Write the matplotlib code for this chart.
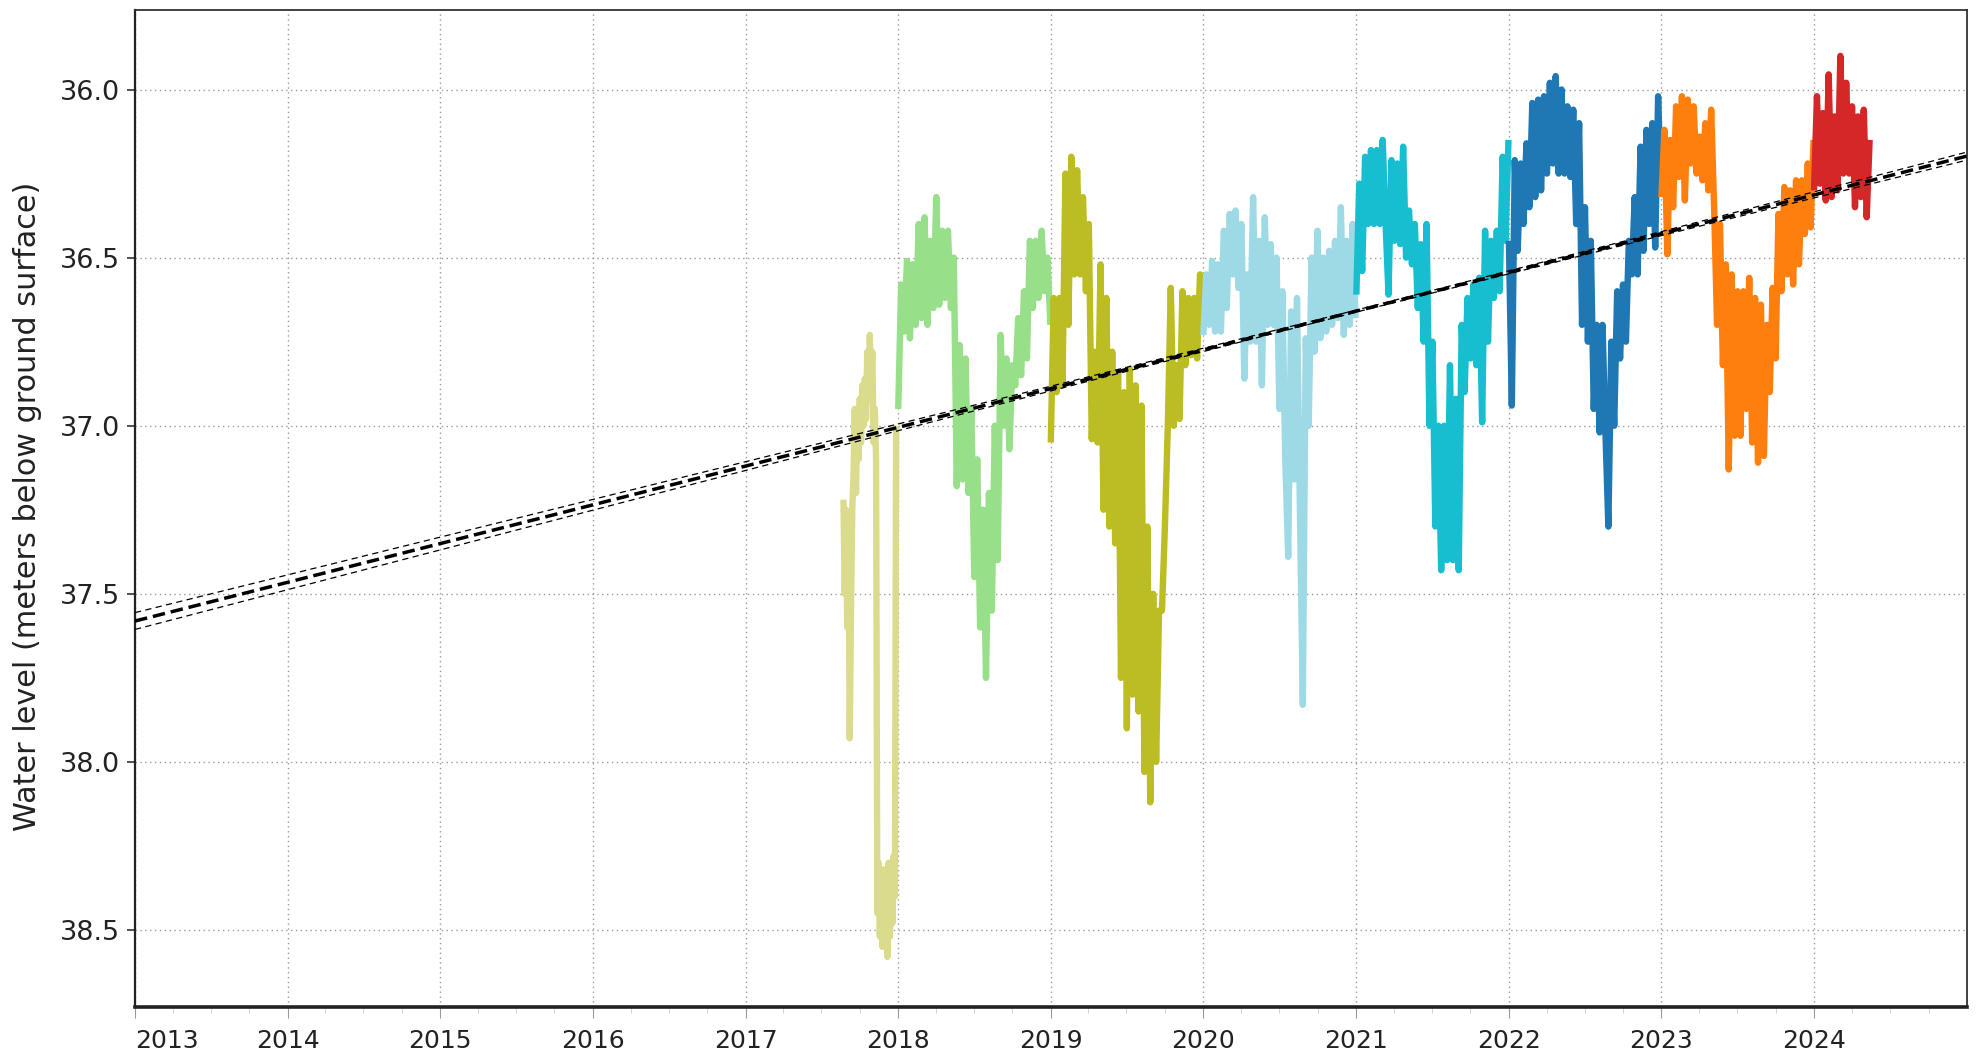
import matplotlib
matplotlib.use("Agg")
import matplotlib.pyplot as plt
import matplotlib.dates as mdates
import numpy as np
import pandas as pd
from datetime import datetime

plt.rcParams['font.family'] = ['DejaVu Sans']

# ---------------- data (water level, m below ground surface) ----------------
# late 2017, every 3 days from 2017-08-23
wl_2017 = [37.22, 37.50, 37.25, 37.60, 37.30, 37.93, 37.55, 37.25, 37.15, 36.95,
           37.20, 36.95, 37.10, 36.92, 37.05, 36.88, 37.00, 36.86, 36.98, 36.78,
           36.92, 36.73, 36.90, 36.78, 37.05, 36.95, 37.10, 38.45, 38.30, 38.52,
           38.35, 38.55, 38.32, 38.50, 38.38, 38.58, 38.30, 38.52, 38.35, 38.48,
           38.28, 38.40, 37.00]
# weekly values from Jan 1 of each year
wl_2018 = [36.95, 36.58, 36.72, 36.51, 36.74, 36.52, 36.70, 36.40, 36.68, 36.38,
           36.70, 36.45, 36.65, 36.32, 36.64, 36.42, 36.62, 36.42, 36.65, 36.50,
           37.18, 36.76, 37.16, 36.80, 37.20, 36.95, 37.45, 37.10, 37.60, 37.25,
           37.75, 37.20, 37.55, 37.00, 37.40, 36.73, 37.00, 36.80, 37.07, 36.82,
           36.88, 36.68, 36.85, 36.60, 36.80, 36.45, 36.65, 36.45, 36.62, 36.42,
           36.60, 36.50, 36.70]
wl_2019 = [37.05, 36.62, 36.90, 36.62, 36.88, 36.25, 36.70, 36.20, 36.55, 36.24,
           36.55, 36.32, 36.60, 36.40, 37.04, 36.78, 37.05, 36.52, 37.25, 36.62,
           37.30, 36.78, 37.35, 36.84, 37.75, 36.90, 37.90, 36.83, 37.80, 36.88,
           37.85, 36.94, 38.03, 37.30, 38.12, 37.50, 38.00, 37.55, 37.55, 37.30,
           37.00, 36.59, 37.00, 36.82, 36.98, 36.60, 36.82, 36.62, 36.79, 36.62,
           36.80, 36.55, 36.72]
wl_2020 = [36.73, 36.55, 36.70, 36.51, 36.72, 36.52, 36.72, 36.42, 36.65, 36.37,
           36.55, 36.36, 36.59, 36.40, 36.86, 36.55, 36.75, 36.32, 36.75, 36.45,
           36.88, 36.38, 36.70, 36.46, 36.70, 36.50, 36.95, 36.60, 37.10, 37.39,
           36.66, 37.16, 36.62, 37.25, 37.83, 36.74, 37.00, 36.50, 36.78, 36.42,
           36.74, 36.50, 36.72, 36.48, 36.70, 36.45, 36.68, 36.35, 36.73, 36.45,
           36.70, 36.40, 36.68]
wl_2021 = [36.61, 36.28, 36.54, 36.20, 36.40, 36.18, 36.40, 36.18, 36.40, 36.15,
           36.40, 36.61, 36.21, 36.45, 36.22, 36.46, 36.17, 36.50, 36.36, 36.52,
           36.40, 36.65, 36.46, 36.75, 36.40, 37.00, 36.75, 37.30, 37.00, 37.43,
           37.00, 37.40, 36.82, 37.40, 36.92, 37.43, 36.70, 36.90, 36.62, 36.80,
           36.58, 36.82, 36.56, 36.99, 36.42, 36.75, 36.45, 36.62, 36.42, 36.60,
           36.20, 36.45, 36.15]
wl_2022 = [36.45, 36.94, 36.21, 36.48, 36.22, 36.40, 36.16, 36.35, 36.04, 36.32,
           36.03, 36.30, 36.02, 36.25, 35.98, 36.22, 35.96, 36.25, 36.00, 36.25,
           36.05, 36.26, 36.06, 36.40, 36.10, 36.70, 36.35, 36.75, 36.45, 36.95,
           36.70, 37.02, 36.70, 37.02, 37.30, 36.75, 37.00, 36.60, 36.80, 36.58,
           36.75, 36.45, 36.55, 36.32, 36.55, 36.17, 36.48, 36.12, 36.40, 36.10,
           36.47, 36.02, 36.30]
wl_2023 = [36.32, 36.12, 36.49, 36.15, 36.35, 36.05, 36.26, 36.02, 36.33, 36.03,
           36.22, 36.05, 36.25, 36.14, 36.27, 36.10, 36.30, 36.06, 36.35, 36.70,
           36.40, 36.82, 36.52, 37.13, 36.55, 37.03, 36.60, 37.03, 36.60, 36.95,
           36.56, 37.05, 36.62, 37.11, 36.64, 37.09, 36.70, 36.90, 36.59, 36.80,
           36.37, 36.60, 36.29, 36.55, 36.30, 36.58, 36.27, 36.52, 36.27, 36.43,
           36.22, 36.41, 36.15]
wl_2024 = [36.30, 36.02, 36.28, 36.07, 36.33, 35.955, 36.32, 36.08, 36.30, 35.90,
           36.25, 35.98, 36.25, 36.05, 36.35, 36.08, 36.32, 36.06, 36.38, 36.15]

series_start = ['2017-08-23', '2018-01-01', '2019-01-01', '2020-01-01',
                '2021-01-01', '2022-01-01', '2023-01-01', '2024-01-01']
series_step_days = [3, 7, 7, 7, 7, 7, 7, 7]
series_values = [wl_2017, wl_2018, wl_2019, wl_2020, wl_2021, wl_2022, wl_2023, wl_2024]
series_colors = ['#dbdb8d', '#98df8a', '#bcbd22', '#9edae5',
                 '#17becf', '#1f77b4', '#ff7f0e', '#d62728']

# linear trend (endpoints) and confidence half-width
trend_years = [2013, 2025]
trend_values = [37.581, 36.198]
ci_years = [2013, 2015, 2017, 2019, 2021, 2023, 2025]
ci_halfwidth = [0.025, 0.019, 0.013, 0.007, 0.003, 0.006, 0.012]

year_ticks = list(range(2013, 2025))
year_labels = [str(y) for y in year_ticks]
y_ticks = [36.0, 36.5, 37.0, 37.5, 38.0, 38.5]

# ---------------- figure ----------------
W, H = 1977, 1063
fig = plt.figure(figsize=(W / 100, H / 100), dpi=100)
ax = fig.add_axes([135 / W, 1 - 1007 / H, (1967 - 135) / W, (1007 - 9.5) / H])

for start, step, vals, col in zip(series_start, series_step_days, series_values, series_colors):
    dates = pd.date_range(start, periods=len(vals), freq=f'{step}D')
    ax.plot(dates, vals, color=col, lw=4.6, solid_joinstyle='round',
            solid_capstyle='butt', zorder=3)

ci_dates = [datetime(y, 1, 1) for y in ci_years]
trend_at_ci = np.interp(ci_years, trend_years, trend_values)
upper = trend_at_ci - np.array(ci_halfwidth)
lower = trend_at_ci + np.array(ci_halfwidth)
ax.plot(ci_dates, upper, color='black', lw=0.9, dashes=(5, 3.5), zorder=4)
ax.plot(ci_dates, lower, color='black', lw=0.9, dashes=(5, 3.5), zorder=4)
ax.plot([datetime(y, 1, 1) for y in trend_years], trend_values, color='black',
        lw=2.5, dashes=(3.6, 1.7), zorder=5)

ax.set_xlim(datetime(2013, 1, 1), datetime(2025, 1, 1))
ax.set_ylim(38.729, 35.762)

ax.set_xticks([datetime(y, 1, 1) for y in year_ticks])
ax.set_xticklabels(year_labels)
ax.xaxis.set_minor_locator(mdates.MonthLocator(bymonth=[4, 7, 10]))
ax.set_yticks(y_ticks)
ax.set_yticklabels([f'{v:.1f}' for v in y_ticks])

ax.grid(True, which='major', linestyle=(0, (1, 2.5)), color='#9a9a9a', lw=1.0)
ax.set_axisbelow(True)

ax.tick_params(axis='y', direction='out', length=6, width=1.2, color='#333333',
               labelsize=19.5, pad=5, labelcolor='#222222')
ax.tick_params(axis='x', which='major', direction='out', length=8, width=0.8,
               color='#999999', labelsize=18, pad=8, labelcolor='#222222')
ax.tick_params(axis='x', which='minor', direction='out', length=4, width=0.6,
               color='#cccccc')
ax.get_xticklabels()[0].set_horizontalalignment('left')

ax.spines['left'].set_linewidth(1.6)
ax.spines['left'].set_color('#222222')
ax.spines['bottom'].set_linewidth(2.6)
ax.spines['bottom'].set_color('#222222')
for side in ['top', 'right']:
    ax.spines[side].set_linewidth(1.3)
    ax.spines[side].set_color('#333333')

fig.text(28 / W, 1 - 506 / H, 'Water level (meters below ground surface)',
         rotation=90, ha='center', va='center', fontsize=21.8, color='#222222')

fig.savefig('out.png', dpi=100)
